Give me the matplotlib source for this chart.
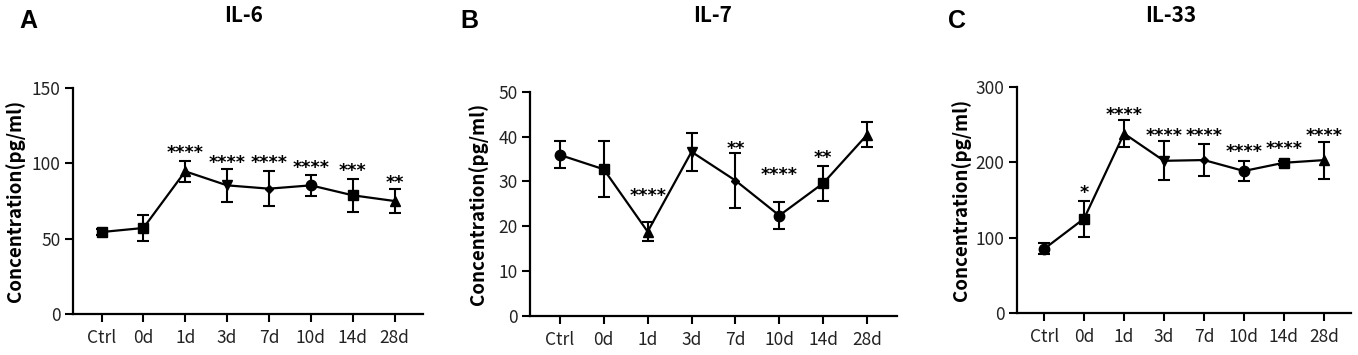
import matplotlib.pyplot as plt
import numpy as np

plt.rcParams['font.family'] = ['Noto Sans CJK SC', 'DejaVu Sans']

groups = ['Ctrl', '0d', '1d', '3d', '7d', '10d', '14d', '28d']

# IL-6
il6_mean = [54.4, 57.1, 94.7, 85.4, 83.2, 85.4, 78.8, 75.0]
il6_err = [2.2, 8.8, 6.9, 10.8, 11.6, 6.9, 10.8, 7.7]
il6_stars = ['', '', '****', '****', '****', '****', '***', '**']
il6_star_y = [None, None, 107.0, 100.5, 100.0, 97.0, 94.8, 87.2]

# IL-7
il7_mean = [35.9, 32.7, 18.8, 36.6, 30.2, 22.4, 29.6, 40.4]
il7_err = [3.0, 6.2, 2.1, 4.2, 6.1, 3.1, 3.9, 2.8]
il7_stars = ['', '', '****', '', '**', '****', '**', '']
il7_star_y = [None, None, 26.8, None, 37.3, 31.4, 35.2, None]

# IL-33
il33_mean = [85.1, 125.3, 238.2, 202.0, 203.0, 188.5, 199.4, 202.9]
il33_err = [7.3, 24.0, 18.5, 26.0, 21.6, 13.2, 3.0, 24.4]
il33_stars = ['', '*', '****', '****', '****', '****', '****', '****']
il33_star_y = [None, 159.5, 263.0, 235.5, 235.5, 213.5, 218.0, 235.5]

markers_a = ['s', 's', '^', 'v', 'D', 'o', 's', '^']
markers_bc = ['o', 's', '^', 'v', 'D', 'o', 's', '^']
msizes = {'s': 7, 'o': 7.5, '^': 7.5, 'v': 7.5, 'D': 4}

panels = [
    dict(letter='A', title='IL-6', mean=il6_mean, err=il6_err, stars=il6_stars,
         star_y=il6_star_y, markers=markers_a, ymax=150, yticks=[0, 50, 100, 150],
         pos=[0.0538, 0.1155, 0.2577, 0.6365], letter_x=0.021, title_x=0.179, ylab_x=0.011),
    dict(letter='B', title='IL-7', mean=il7_mean, err=il7_err, stars=il7_stars,
         star_y=il7_star_y, markers=markers_bc, ymax=50, yticks=[0, 10, 20, 30, 40, 50],
         pos=[0.3903, 0.1099, 0.2702, 0.6318], letter_x=0.346, title_x=0.525, ylab_x=0.352),
    dict(letter='C', title='IL-33', mean=il33_mean, err=il33_err, stars=il33_stars,
         star_y=il33_star_y, markers=markers_bc, ymax=300, yticks=[0, 100, 200, 300],
         pos=[0.7489, 0.1183, 0.2459, 0.6367], letter_x=0.705, title_x=0.862, ylab_x=0.708),
]

fig = plt.figure(figsize=(13.58, 3.55), dpi=100)

for p in panels:
    ax = fig.add_axes(p['pos'])
    x = np.arange(len(groups))
    ax.errorbar(x, p['mean'], yerr=p['err'], fmt='none', ecolor='black',
                elinewidth=1.5, capsize=4, capthick=1.5, zorder=2)
    ax.plot(x, p['mean'], color='black', lw=1.6, zorder=3)
    for xi, yi, m in zip(x, p['mean'], p['markers']):
        ax.plot(xi, yi, marker=m, color='black', ms=msizes[m], ls='', zorder=4)
    for xi, s, sy in zip(x, p['stars'], p['star_y']):
        if s:
            ax.text(xi, sy, s, ha='center', va='center', fontsize=12.5,
                    family='DejaVu Sans', fontweight='bold', color='black')

    ax.set_xlim(-0.68, len(groups) - 1 + 0.68)
    ax.set_ylim(0, p['ymax'])
    ax.set_yticks(p['yticks'])
    ax.set_xticks(x)
    ax.set_xticklabels(groups)
    for side in ['top', 'right']:
        ax.spines[side].set_visible(False)
    for side in ['left', 'bottom']:
        ax.spines[side].set_linewidth(1.6)
    ax.tick_params(axis='both', width=1.5, length=6, labelsize=12.5,
                   labelcolor='#222222', pad=3)
    ax.tick_params(axis='x', pad=5)

    fig.text(p['ylab_x'], p['pos'][1] + p['pos'][3] / 2, 'Concentration(pg/ml)',
             rotation=90, ha='center', va='center', fontsize=13.5, fontweight='bold')
    fig.text(p['title_x'], 0.955, p['title'], ha='center', va='center',
             fontsize=15, fontweight='bold')
    fig.text(p['letter_x'], 0.94, p['letter'], ha='center', va='center',
             fontsize=18, fontweight='bold', family='Liberation Sans')

fig.savefig('out.png', dpi=100)
